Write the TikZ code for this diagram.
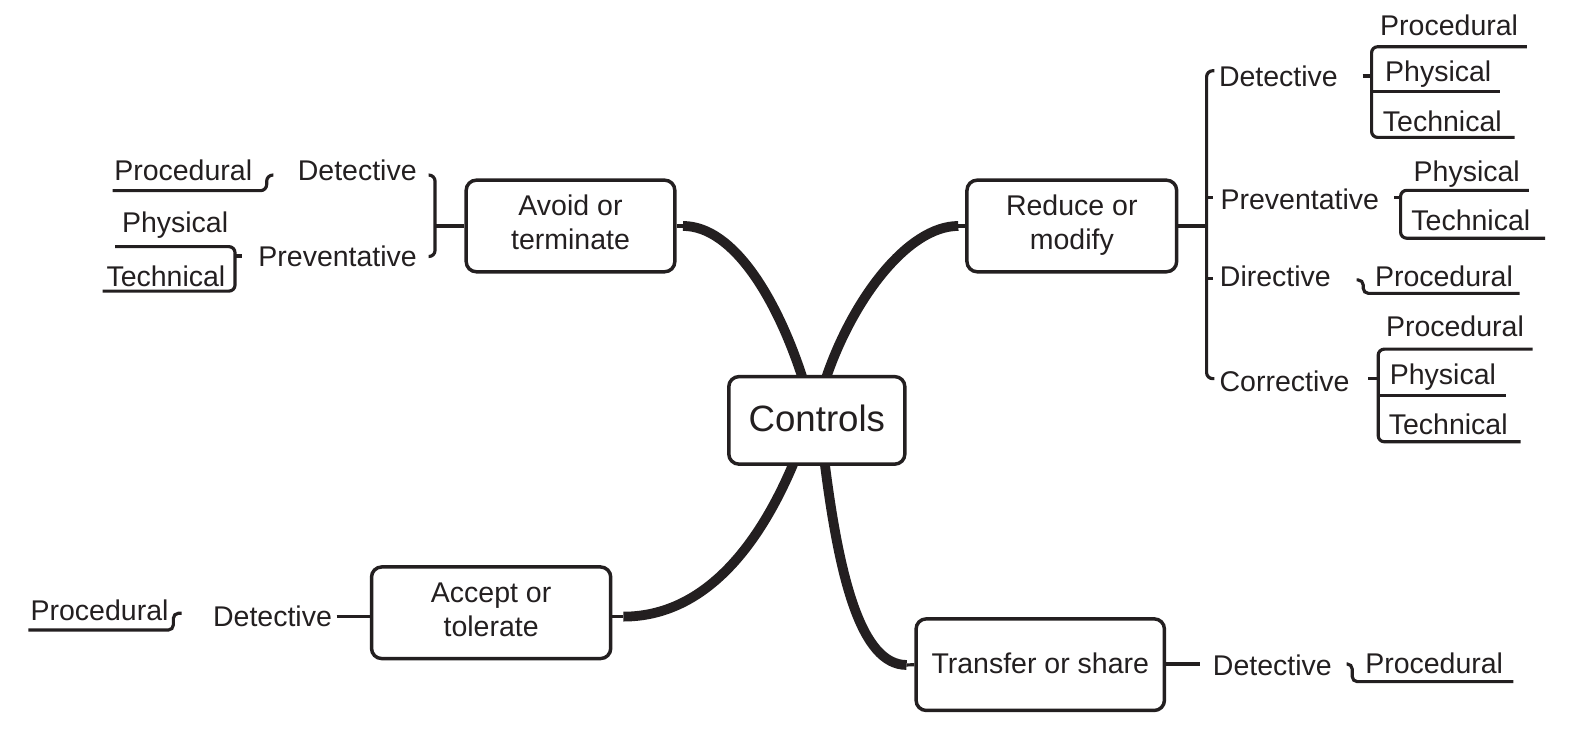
\documentclass[tikz,border=0pt]{standalone}
\usepackage{fontspec}
\setmainfont{Liberation Sans}
\definecolor{ink}{HTML}{231F20}
\begin{document}
\begin{tikzpicture}[x=1pt,y=-1pt,
  box/.style={draw=ink, line width=3.4pt, rounded corners=10pt, fill=white, inner sep=0pt},
  lbl/.style={text=ink, font=\fontsize{28}{34}\selectfont, inner sep=0pt, anchor=base},
  big/.style={text=ink, font=\fontsize{36}{40}\selectfont, inner sep=0pt, anchor=base},
  ln/.style={draw=ink, line width=3.1pt},
  brk/.style={draw=ink, line width=3.1pt, rounded corners=6pt},
  brks/.style={draw=ink, line width=3.1pt, rounded corners=5pt},
  branch/.style={draw=ink, line width=9.6pt}]
\useasboundingbox (0,0) rectangle (1568,723);

% anchor points of the branches on the central box
\coordinate (cAvoid) at (789,373);
\coordinate (cReduce) at (811,373);
\coordinate (cAccept) at (780.5,453);
\coordinate (cTransfer) at (810,453);
\coordinate (sAvoid) at (671,222);
\coordinate (sReduce) at (941.5,222);
\coordinate (sAccept) at (612.4,605.8);
\coordinate (sTransfer) at (890.7,653.3);

% thick branches
\draw[branch] (sAvoid) .. controls (721,222) and (764,295) .. (cAvoid);
\draw[branch] (sReduce) .. controls (891.5,222) and (837,295) .. (cReduce);
\draw[branch] (cAccept) .. controls (754,516.8) and (702.4,605.8) .. (sAccept);
\draw[branch] (cTransfer) .. controls (824.3,566.8) and (845.7,653.3) .. (sTransfer);

% boxes
\node[box, minimum width=173pt, minimum height=86pt] (controls) at (802.5,413) {};
\node[box, minimum width=205pt, minimum height=90pt] (avoid) at (560.5,222) {};
\node[box, minimum width=206pt, minimum height=90pt] (reduce) at (1053,222) {};
\node[box, minimum width=235pt, minimum height=90pt] (accept) at (482.5,602) {};
\node[box, minimum width=244pt, minimum height=90pt] (transfer) at (1022,653) {};

\node[big] (tControls) at (802.5,424) {Controls};
\node[lbl] (tAvoid1) at (560.5,212) {Avoid or};
\node[lbl] (tAvoid2) at (560.5,245.6) {terminate};
\node[lbl] (tReduce1) at (1053,212) {Reduce or};
\node[lbl] (tReduce2) at (1053,245.6) {modify};
\node[lbl] (tAccept1) at (482.5,592) {Accept or};
\node[lbl] (tAccept2) at (482.5,625.7) {tolerate};
\node[lbl] (tTransfer) at (1022,662) {Transfer or share};

% stubs between boxes and branches
\draw[ln] (avoid.east) -- (sAvoid);
\draw[ln] (reduce.west) -- (sReduce);
\draw[ln] (accept.east |- sAccept) -- (sAccept);
\draw[ln] (transfer.west) -- (sTransfer);

% ---------------- Avoid or terminate (left) ----------------
\node[lbl] (aDet) at (351,177.5) {Detective};
\node[lbl] (aPrev) at (331.7,262) {Preventative};
\node[lbl] (aProc) at (180,177.5) {Procedural};
\node[lbl] (aPhys) at (172,228.6) {Physical};
\node[lbl] (aTech) at (163,281) {Technical};
\draw[brk] (421,172) -- (427.4,172) -- (427.4,252) -- (421,252);
\draw[ln] (427.4,222) -- (avoid.west);
\draw[brk] (110.7,187.3) -- (262,187.3) -- (262,172) -- (268.5,172);
\draw[brk] (113,242.3) -- (230.9,242.3) -- (230.9,286) -- (100.9,286);
\draw[ln] (230.9,251.5) -- (237.4,251.5);

% ---------------- Reduce or modify (right) ----------------
\draw[ln] (reduce.east) -- (1185.4,222);
\draw[brk] (1193,69.5) -- (1185.4,69.5) -- (1185.4,372) -- (1193,372);
\draw[ln] (1185.4,194) -- (1192,194);
\draw[ln] (1185.4,273.5) -- (1192,273.5);

\node[lbl] (rDet) at (1256,84.5) {Detective};
\node[lbl] (rPrev) at (1277,206.3) {Preventative};
\node[lbl] (rDir) at (1253,281) {Directive};
\node[lbl] (rCor) at (1262,384.8) {Corrective};

% Detective children
\node[lbl] (rDetProc) at (1423.7,34.4) {Procedural};
\node[lbl] (rDetPhys) at (1413,80.2) {Physical};
\node[lbl] (rDetTech) at (1417,129.4) {Technical};
\draw[ln] (1338.7,74.6) -- (1347.5,74.6);
\draw[brk] (1500,45.9) -- (1347.5,45.9) -- (1347.5,135) -- (1488,135);
\draw[ln] (1347.5,90) -- (1473.5,90);

% Preventative children
\node[lbl] (rPrevPhys) at (1441,178.5) {Physical};
\node[lbl] (rPrevTech) at (1445,226.6) {Technical};
\draw[ln] (1370,194) -- (1376,194);
\draw[brk] (1502,187) -- (1376,187) -- (1376,234) -- (1518,234);

% Directive child
\node[lbl] (rDirProc) at (1418.6,281) {Procedural};
\draw[brks] (1332.8,275) -- (1339.3,275) -- (1339.3,288.2) -- (1493,288.2);

% Corrective children
\node[lbl] (rCorProc) at (1429.4,330.7) {Procedural};
\node[lbl] (rCorPhys) at (1417.6,378.2) {Physical};
\node[lbl] (rCorTech) at (1422.8,427.3) {Technical};
\draw[ln] (1344,372) -- (1354,372);
\draw[brk] (1505.6,343) -- (1354,343) -- (1354,434) -- (1494,434);
\draw[ln] (1354,388.7) -- (1479.5,388.7);

% ---------------- Accept or tolerate ----------------
\node[lbl] (acDet) at (267.7,615.7) {Detective};
\node[lbl] (acProc) at (97.8,609.8) {Procedural};
\draw[ln] (330.7,605.8) -- (accept.west |- 0,605.8);
\draw[brks] (27.8,619) -- (170.3,619) -- (170.3,602.5) -- (178.5,602.5);

% ---------------- Transfer or share ----------------
\node[lbl] (trDet) at (1250,664.1) {Detective};
\node[lbl] (trProc) at (1409,661.5) {Procedural};
\draw[ln] (transfer.east |- 0,652.3) -- (1179,652.3);
\draw[brks] (1323,652.3) -- (1328.5,652.3) -- (1328.5,669.7) -- (1486.7,669.7);
\end{tikzpicture}
\end{document}
